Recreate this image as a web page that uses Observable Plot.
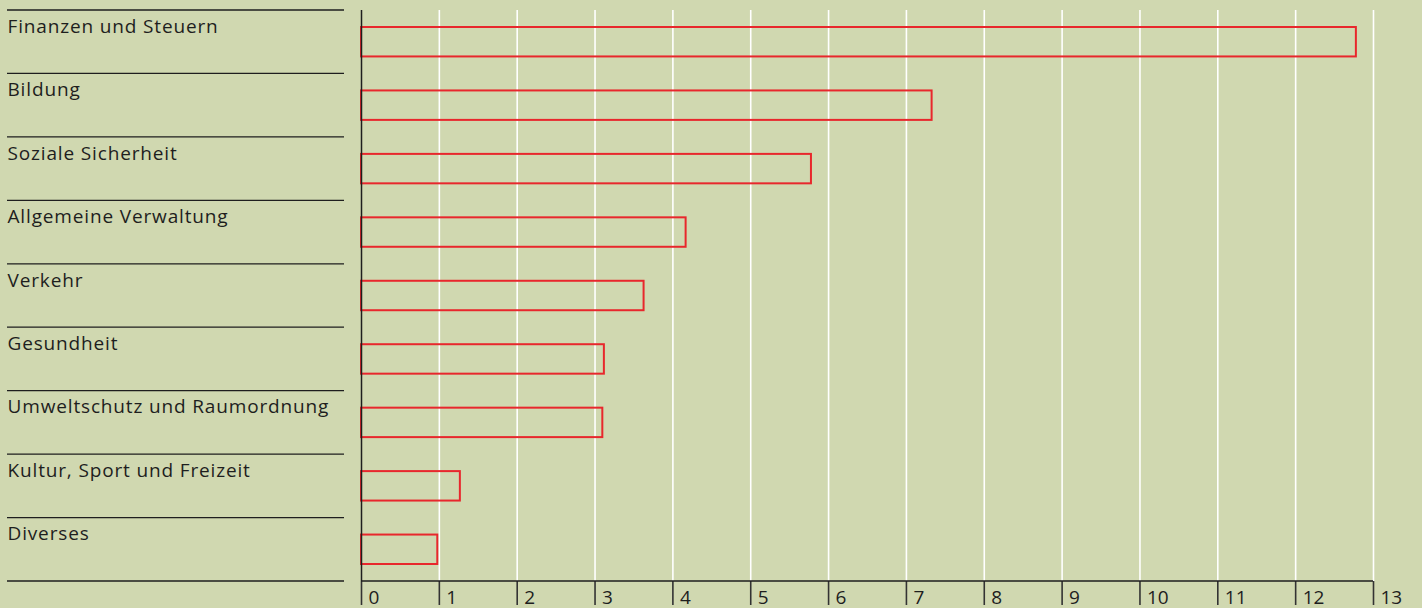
<!DOCTYPE html>
<html>
<head>
<meta charset="utf-8">
<script src="https://cdn.jsdelivr.net/npm/d3@7"></script>
<script src="https://cdn.jsdelivr.net/npm/@observablehq/plot@0.6"></script>
<style>
  html, body { margin: 0; padding: 0; background: #d0d8b0; }
  svg text.cat { letter-spacing: 0.85px; }
</style>
</head>
<body>
<div id="chart"></div>
<script>
const categories = [
  "Finanzen und Steuern",
  "Bildung",
  "Soziale Sicherheit",
  "Allgemeine Verwaltung",
  "Verkehr",
  "Gesundheit",
  "Umweltschutz und Raumordnung",
  "Kultur, Sport und Freizeit",
  "Diverses"
];
const values = [12.78, 7.33, 5.78, 4.17, 3.63, 3.12, 3.10, 1.27, 0.98];
const xTicks = [0, 1, 2, 3, 4, 5, 6, 7, 8, 9, 10, 11, 12, 13];

const data = categories.map((c, i) => ({category: c, value: values[i]}));

const ink = "#1e1e1e";
const chart = Plot.plot({
  width: 1422,
  height: 608,
  marginLeft: 361,
  marginRight: 49,
  marginTop: 10,
  marginBottom: 27,
  style: {
    background: "#d0d8b0",
    fontFamily: "'Open Sans', 'Noto Sans', sans-serif",
    fontSize: "19px",
    color: ink,
    overflow: "visible"
  },
  x: {domain: [0, 13], axis: null, label: null},
  y: {domain: categories, padding: 0, round: false, axis: null, label: null},
  marks: [
    Plot.gridX(xTicks.slice(1), {stroke: "white", strokeOpacity: 1, strokeWidth: 1.6}),
    Plot.barX(data, {
      x: "value", y: "category",
      fill: "none", stroke: "#e8272c", strokeWidth: 2,
      insetTop: 17, insetBottom: 17
    }),
    Plot.ruleX([0], {stroke: ink, strokeWidth: 1.5}),
    Plot.axisX({
      ticks: xTicks, tickSize: 24, text: null, label: null,
      stroke: "#333", strokeWidth: 1.6, strokeOpacity: 1
    }),
    Plot.axisX({
      ticks: xTicks, tickSize: 0, tickPadding: 9, label: null,
      textAnchor: "start", dx: 7, tickFormat: d => String(d),
      fill: ink, fontSize: 19
    }),
    Plot.text(data, {
      y: "category", text: "category",
      frameAnchor: "left", dx: -354, dy: -23, lineAnchor: "top",
      textAnchor: "start", fill: ink, fontSize: 19, className: "cat"
    })
  ]
});

// separator lines on the left and the bottom axis line, positioned via the chart's scales
const ys = chart.scale("y");
const xs = chart.scale("x");
const bw = ys.bandwidth;
const bounds = categories.map(c => ys.apply(c)).concat([ys.apply(categories[categories.length - 1]) + bw]);
const svg = d3.select(chart);
svg.selectAll("g.cat text, g[aria-label='text'] text").classed("cat", true);
const g = svg.append("g").attr("stroke", ink).attr("stroke-width", 1.3);
bounds.forEach(yy => {
  g.append("line").attr("x1", 7).attr("x2", xs.apply(0) - 17).attr("y1", yy).attr("y2", yy);
});
g.append("line")
  .attr("x1", xs.apply(0)).attr("x2", xs.apply(13))
  .attr("y1", bounds[bounds.length - 1]).attr("y2", bounds[bounds.length - 1])
  .attr("stroke-width", 1.5);

document.getElementById("chart").appendChild(chart);
</script>
</body>
</html>
